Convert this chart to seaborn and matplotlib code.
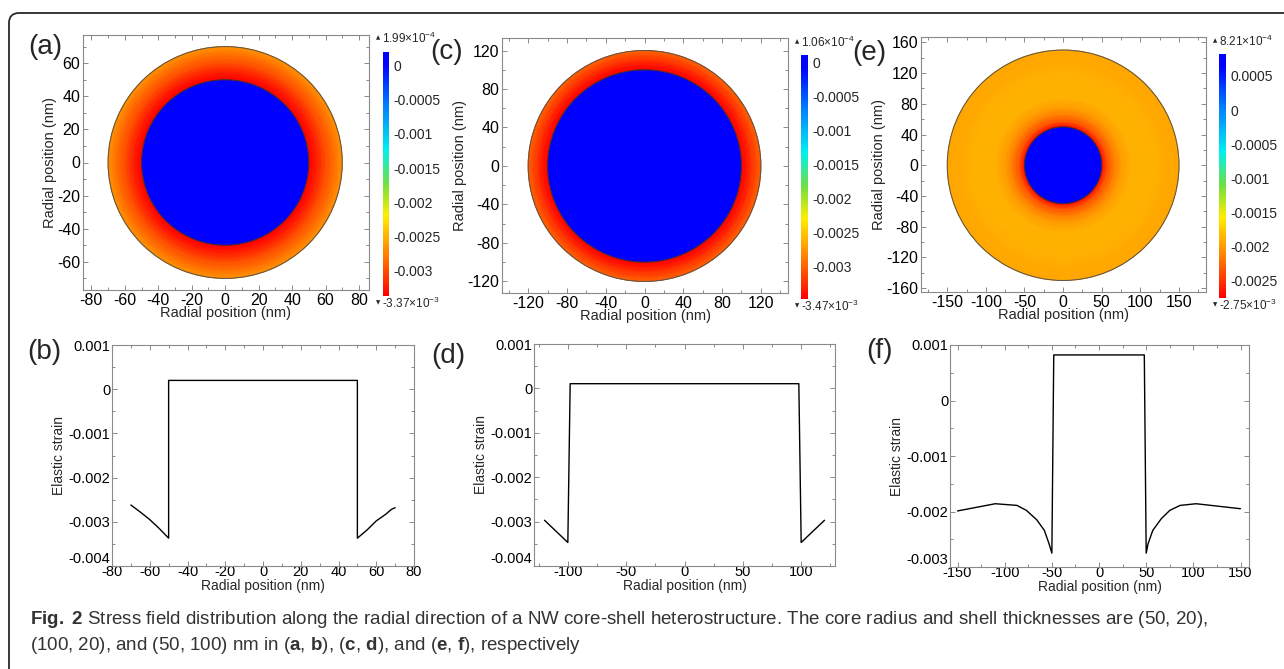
import numpy as np
import matplotlib
matplotlib.use("Agg")
import matplotlib.pyplot as plt
import seaborn as sns
from matplotlib.colors import LinearSegmentedColormap, Normalize
from matplotlib.patches import Circle, FancyBboxPatch
from matplotlib.ticker import FixedLocator, MultipleLocator

# ---------------- data ----------------
# radial strain profiles (nm, elastic strain)
b_x = [-70, -65, -60, -55, -50, -50, 50, 50, 55, 60, 65, 68, 70]
b_y = [-0.00262, -0.00278, -0.00295, -0.00315, -0.00337, 0.000199,
       0.000199, -0.00337, -0.00319, -0.00298, -0.00283, -0.00272, -0.00268]

d_x = [-120, -110, -100, -98, 98, 100, 110, 120]
d_y = [-0.00297, -0.00322, -0.00347, 0.000106, 0.000106, -0.00347, -0.00322, -0.00297]

f_x = [-150, -110, -87, -77, -66, -58, -53, -50, -48, 48, 50, 52, 57, 66, 75, 86, 103, 150]
f_y = [-0.00199, -0.00186, -0.00189, -0.00198, -0.00215, -0.00234, -0.00258, -0.00275,
       0.000821, 0.000821, -0.00275, -0.00258, -0.00234, -0.00213, -0.00198, -0.00189,
       -0.00186, -0.00195]

# tick values
a_xticks = [-80, -60, -40, -20, 0, 20, 40, 60, 80]
a_yticks = [-60, -40, -20, 0, 20, 40, 60]
c_xticks = [-120, -80, -40, 0, 40, 80, 120]
c_yticks = [-120, -80, -40, 0, 40, 80, 120]
e_xticks = [-150, -100, -50, 0, 50, 100, 150]
e_yticks = [-160, -120, -80, -40, 0, 40, 80, 120, 160]
cb_ac_ticks = [0, -0.0005, -0.001, -0.0015, -0.002, -0.0025, -0.003]
cb_e_ticks = [0.0005, 0, -0.0005, -0.001, -0.0015, -0.002, -0.0025]
b_xticks = [-80, -60, -40, -20, 0, 20, 40, 60, 80]
d_xticks = [-100, -50, 0, 50, 100]
f_xticks = [-150, -100, -50, 0, 50, 100, 150]
strain_ticks_bd = [-0.004, -0.003, -0.002, -0.001, 0, 0.001]
strain_ticks_f = [-0.003, -0.002, -0.001, 0, 0.001]

caption1 = (r"$\mathbf{Fig.\ 2}$ Stress field distribution along the radial direction of a NW "
            r"core-shell heterostructure. The core radius and shell thicknesses are (50, 20),")
caption2 = (r"(100, 20), and (50, 100) nm in ($\mathbf{a}$, $\mathbf{b}$), ($\mathbf{c}$, "
            r"$\mathbf{d}$), and ($\mathbf{e}$, $\mathbf{f}$), respectively")

# ---------------- style ----------------
sns.set_theme(style="ticks")
plt.rcParams["font.family"] = ["Liberation Sans", "DejaVu Sans"]
plt.rcParams["axes.unicode_minus"] = False
plt.rcParams["mathtext.fontset"] = "custom"
plt.rcParams["mathtext.rm"] = "Liberation Sans"
plt.rcParams["mathtext.bf"] = "Liberation Sans:bold"
plt.rcParams["mathtext.it"] = "Liberation Sans:italic"
plt.rcParams["mathtext.default"] = "regular"

cmap = LinearSegmentedColormap.from_list(
    "rainbow_comsol",
    [(0.0, "#ff0000"), (0.17, "#ff8000"), (0.33, "#ffee00"), (0.46, "#70e040"),
     (0.6, "#00f0f0"), (0.78, "#0080ff"), (0.95, "#0000ff"), (1.0, "#0000ff")])

W, H = 1284, 669
fig = plt.figure(figsize=(W / 100, H / 100), dpi=100)


def add_px(x0, y0, x1, y1):
    return fig.add_axes([x0 / W, 1 - y1 / H, (x1 - x0) / W, (y1 - y0) / H])


def style_frame(ax, fs, xpad=2, ypad=2):
    for s in ax.spines.values():
        s.set_color("#8a8a8a")
        s.set_linewidth(0.8)
    ax.tick_params(which="both", direction="in", top=True, right=True,
                   color="#777777", width=0.6, labelsize=fs, labelcolor="black")
    ax.tick_params(axis="x", which="both", pad=xpad)
    ax.tick_params(axis="y", which="both", pad=ypad)
    ax.tick_params(which="major", length=3.5)
    ax.tick_params(which="minor", length=2)


def sci(v):
    e = int(np.floor(np.log10(abs(v))))
    m = v / 10 ** e
    return f"{m:.2f}×10$^{{{e}}}$"


def heat(ax, cax, xs, ys, xlim, ylim, xt, yt, xminor, yminor, cticks, lab_x, top_y, bot_y):
    xs = np.asarray(xs, float)
    ys = np.asarray(ys, float)
    vmin, vmax = ys.min(), ys.max()
    sel = xs >= 0
    rx, ry = xs[sel], ys[sel]
    core_v = ry[0]
    shell_x, shell_y = rx[1:], ry[1:]
    r = np.concatenate([[0, shell_x[0]], shell_x])
    v = np.concatenate([[core_v, core_v], shell_y])
    theta = np.linspace(0, 2 * np.pi, 721)
    R, T = np.meshgrid(r, theta)
    V, _ = np.meshgrid(v, theta)
    m = ax.pcolormesh(R * np.cos(T), R * np.sin(T), V, shading="gouraud",
                      cmap=cmap, norm=Normalize(vmin, vmax), rasterized=True)
    ax.add_patch(Circle((0, 0), shell_x[0], fill=False, lw=0.7, ec="#333333"))
    ax.add_patch(Circle((0, 0), shell_x[-1], fill=False, lw=0.7, ec="#555555"))
    ax.set_xlim(*xlim)
    ax.set_ylim(*ylim)
    ax.xaxis.set_major_locator(FixedLocator(xt))
    ax.yaxis.set_major_locator(FixedLocator(yt))
    ax.xaxis.set_minor_locator(MultipleLocator(xminor))
    ax.yaxis.set_minor_locator(MultipleLocator(yminor))
    ax.set_xticklabels([f"{t:g}" for t in xt])
    ax.set_yticklabels([f"{t:g}" for t in yt])
    style_frame(ax, 11.5, xpad=2, ypad=2)
    ax.set_xlabel("Radial position (nm)", fontsize=10.5, labelpad=-1)
    ax.set_ylabel("Radial position (nm)", fontsize=10.5, labelpad=0)
    cb = fig.colorbar(m, cax=cax, ticks=cticks)
    cb.outline.set_visible(False)
    cb.set_ticklabels([f"{t:g}" for t in cticks])
    cax.tick_params(length=0, labelsize=10, pad=3)
    fig.text(lab_x / W, 1 - top_y / H, "▲", fontsize=4, ha="center", va="center",
             family=["DejaVu Sans"])
    fig.text((lab_x + 4) / W, 1 - top_y / H, sci(vmax), fontsize=8.5, ha="left", va="center")
    fig.text(lab_x / W, 1 - bot_y / H, "▼", fontsize=4, ha="center", va="center",
             family=["DejaVu Sans"])
    fig.text((lab_x + 4) / W, 1 - bot_y / H, sci(vmin), fontsize=8.5, ha="left", va="center")


def profile(ax, xs, ys, xlim, ylim, xt, yt, xminor):
    sns.lineplot(x=xs, y=ys, ax=ax, color="black", linewidth=1.0, sort=False, estimator=None)
    ax.set_xlim(*xlim)
    ax.set_ylim(*ylim)
    ax.xaxis.set_major_locator(FixedLocator(xt))
    ax.yaxis.set_major_locator(FixedLocator(yt))
    ax.xaxis.set_minor_locator(MultipleLocator(xminor))
    ax.yaxis.set_minor_locator(MultipleLocator(0.0005))
    ax.set_xticklabels([f"{t:g}" for t in xt])
    ax.set_yticklabels([f"{t:g}" for t in yt])
    style_frame(ax, 10.5, xpad=-1, ypad=1)
    # bottom strain label sits just above the corner so it does not collide with the x label
    ax.get_yticklabels()[0].set_verticalalignment("bottom")
    ax.set_xlabel("Radial position (nm)", fontsize=10, labelpad=0)
    ax.set_ylabel("Elastic strain", fontsize=10, labelpad=2)


# ---------------- border ----------------
border = FancyBboxPatch((0.09, -1.0), 14.0, 7.56, boxstyle="round,pad=0,rounding_size=0.1",
                        transform=fig.dpi_scale_trans, fc="none", ec="#2a2a2a", lw=1.3,
                        zorder=-5)
fig.add_artist(border)

# ---------------- heat maps ----------------
ax_a = add_px(83, 35, 369, 290)
cax_a = add_px(383, 52, 389, 296)
heat(ax_a, cax_a, b_x, b_y, (-85, 86), (-77, 77), a_xticks, a_yticks, 10, 10,
     cb_ac_ticks, 378, 38, 303)

ax_c = add_px(502, 38, 788, 293)
cax_c = add_px(801, 55, 808, 299)
heat(ax_c, cax_c, d_x, d_y, (-147, 148), (-132, 133), c_xticks, c_yticks, 20, 20,
     cb_ac_ticks, 797, 42, 306)

ax_e = add_px(921, 37, 1206, 292)
cax_e = add_px(1219, 54, 1226, 298)
heat(ax_e, cax_e, f_x, f_y, (-184, 185), (-165, 167), e_xticks, e_yticks, 25, 20,
     cb_e_ticks, 1215, 41, 305)

# ---------------- profiles ----------------
ax_b = add_px(112, 345, 414, 566)
profile(ax_b, b_x, b_y, (-80, 80), (-0.004, 0.001), b_xticks, strain_ticks_bd, 10)

ax_d = add_px(534, 344, 835, 566)
profile(ax_d, d_x, d_y, (-129, 129), (-0.004, 0.001), d_xticks, strain_ticks_bd, 25)

ax_f = add_px(950, 345, 1249, 567)
profile(ax_f, f_x, f_y, (-158, 159), (-0.003, 0.001), f_xticks, strain_ticks_f, 25)

# ---------------- panel letters ----------------
for lab, x, y in [("(a)", 45, 47), ("(c)", 447, 52), ("(e)", 869, 53),
                  ("(b)", 44, 352), ("(d)", 448, 356), ("(f)", 880, 351)]:
    fig.text(x / W, 1 - y / H, lab, fontsize=20, ha="center", va="center")

# ---------------- caption ----------------
fig.text(30 / W, 1 - 620 / H, caption1, fontsize=13.5, ha="left", va="center", color="#333333")
fig.text(30 / W, 1 - 646 / H, caption2, fontsize=13.5, ha="left", va="center", color="#333333")

fig.savefig("out.png", dpi=100)
